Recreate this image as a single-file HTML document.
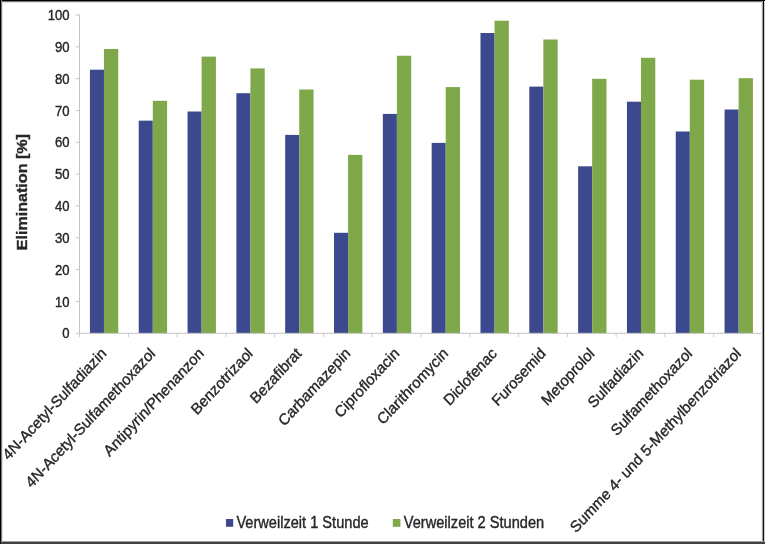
<!DOCTYPE html>
<html lang="de"><head><meta charset="utf-8"><title>Elimination</title>
<style>
html,body{margin:0;padding:0;background:#fff;}
body{width:765px;height:544px;overflow:hidden;position:relative;font-family:"Liberation Sans",sans-serif;}
svg{position:absolute;left:0;top:0;display:block;}
svg text{font-family:"Liberation Sans",sans-serif;fill:#262626;stroke:#262626;stroke-width:0.35px;}
</style></head><body>
<svg width="765" height="544" viewBox="0 0 765 544">
<rect x="0" y="0" width="765" height="544" fill="#fff"/>
<defs><filter id="soft" x="0" y="0" width="765" height="544" filterUnits="userSpaceOnUse"><feGaussianBlur stdDeviation="0.4"/></filter></defs>
<g filter="url(#soft)">
<rect x="89.92" y="69.70" width="14.05" height="263.60" fill="#3c4a8e"/><rect x="103.97" y="49.00" width="14.30" height="284.30" fill="#7ea84a"/>
<rect x="138.74" y="120.65" width="14.05" height="212.65" fill="#3c4a8e"/><rect x="152.79" y="100.80" width="14.30" height="232.50" fill="#7ea84a"/>
<rect x="187.56" y="111.50" width="14.05" height="221.80" fill="#3c4a8e"/><rect x="201.61" y="56.60" width="14.30" height="276.70" fill="#7ea84a"/>
<rect x="236.38" y="93.20" width="14.05" height="240.10" fill="#3c4a8e"/><rect x="250.43" y="68.40" width="14.30" height="264.90" fill="#7ea84a"/>
<rect x="285.20" y="134.90" width="14.05" height="198.40" fill="#3c4a8e"/><rect x="299.25" y="89.50" width="14.30" height="243.80" fill="#7ea84a"/>
<rect x="334.02" y="232.80" width="14.05" height="100.50" fill="#3c4a8e"/><rect x="348.07" y="154.90" width="14.30" height="178.40" fill="#7ea84a"/>
<rect x="382.84" y="113.90" width="14.05" height="219.40" fill="#3c4a8e"/><rect x="396.89" y="55.75" width="14.30" height="277.55" fill="#7ea84a"/>
<rect x="431.66" y="142.90" width="14.05" height="190.40" fill="#3c4a8e"/><rect x="445.71" y="87.10" width="14.30" height="246.20" fill="#7ea84a"/>
<rect x="480.48" y="33.00" width="14.05" height="300.30" fill="#3c4a8e"/><rect x="494.53" y="20.70" width="14.30" height="312.60" fill="#7ea84a"/>
<rect x="529.30" y="86.60" width="14.05" height="246.70" fill="#3c4a8e"/><rect x="543.35" y="39.50" width="14.30" height="293.80" fill="#7ea84a"/>
<rect x="578.12" y="166.30" width="14.05" height="167.00" fill="#3c4a8e"/><rect x="592.17" y="78.80" width="14.30" height="254.50" fill="#7ea84a"/>
<rect x="626.94" y="101.70" width="14.05" height="231.60" fill="#3c4a8e"/><rect x="640.99" y="57.80" width="14.30" height="275.50" fill="#7ea84a"/>
<rect x="675.76" y="131.50" width="14.05" height="201.80" fill="#3c4a8e"/><rect x="689.81" y="79.70" width="14.30" height="253.60" fill="#7ea84a"/>
<rect x="724.58" y="109.50" width="14.05" height="223.80" fill="#3c4a8e"/><rect x="738.63" y="78.20" width="14.30" height="255.10" fill="#7ea84a"/>
<g stroke="#c2c2c2" stroke-width="1" fill="none">
<line x1="79.55" y1="14.50" x2="79.55" y2="333.80"/>
<line x1="79.05" y1="333.30" x2="762.47" y2="333.30"/>
<line stroke="#c6c6c6" x1="75.75" y1="333.30" x2="79.55" y2="333.30"/><line stroke="#c6c6c6" x1="75.75" y1="301.47" x2="79.55" y2="301.47"/><line stroke="#c6c6c6" x1="75.75" y1="269.64" x2="79.55" y2="269.64"/><line stroke="#c6c6c6" x1="75.75" y1="237.81" x2="79.55" y2="237.81"/><line stroke="#c6c6c6" x1="75.75" y1="205.98" x2="79.55" y2="205.98"/><line stroke="#c6c6c6" x1="75.75" y1="174.15" x2="79.55" y2="174.15"/><line stroke="#c6c6c6" x1="75.75" y1="142.32" x2="79.55" y2="142.32"/><line stroke="#c6c6c6" x1="75.75" y1="110.49" x2="79.55" y2="110.49"/><line stroke="#c6c6c6" x1="75.75" y1="78.66" x2="79.55" y2="78.66"/><line stroke="#c6c6c6" x1="75.75" y1="46.83" x2="79.55" y2="46.83"/><line stroke="#c6c6c6" x1="75.75" y1="15.00" x2="79.55" y2="15.00"/>
<line stroke="#cacaca" x1="79.55" y1="333.30" x2="79.55" y2="337.10"/><line stroke="#cacaca" x1="128.33" y1="333.30" x2="128.33" y2="337.10"/><line stroke="#cacaca" x1="177.11" y1="333.30" x2="177.11" y2="337.10"/><line stroke="#cacaca" x1="225.89" y1="333.30" x2="225.89" y2="337.10"/><line stroke="#cacaca" x1="274.67" y1="333.30" x2="274.67" y2="337.10"/><line stroke="#cacaca" x1="323.45" y1="333.30" x2="323.45" y2="337.10"/><line stroke="#cacaca" x1="372.23" y1="333.30" x2="372.23" y2="337.10"/><line stroke="#cacaca" x1="421.01" y1="333.30" x2="421.01" y2="337.10"/><line stroke="#cacaca" x1="469.79" y1="333.30" x2="469.79" y2="337.10"/><line stroke="#cacaca" x1="518.57" y1="333.30" x2="518.57" y2="337.10"/><line stroke="#cacaca" x1="567.35" y1="333.30" x2="567.35" y2="337.10"/><line stroke="#cacaca" x1="616.13" y1="333.30" x2="616.13" y2="337.10"/><line stroke="#cacaca" x1="664.91" y1="333.30" x2="664.91" y2="337.10"/><line stroke="#cacaca" x1="713.69" y1="333.30" x2="713.69" y2="337.10"/><line stroke="#cacaca" x1="762.47" y1="333.30" x2="762.47" y2="337.10"/>
</g>
<g font-size="13.1" text-anchor="end">
<text transform="translate(69.6,338.40) scale(1,1.080)">0</text><text transform="translate(69.6,306.57) scale(1,1.080)">10</text><text transform="translate(69.6,274.74) scale(1,1.080)">20</text><text transform="translate(69.6,242.91) scale(1,1.080)">30</text><text transform="translate(69.6,211.08) scale(1,1.080)">40</text><text transform="translate(69.6,179.25) scale(1,1.080)">50</text><text transform="translate(69.6,147.42) scale(1,1.080)">60</text><text transform="translate(69.6,115.59) scale(1,1.080)">70</text><text transform="translate(69.6,83.76) scale(1,1.080)">80</text><text transform="translate(69.6,51.93) scale(1,1.080)">90</text><text transform="translate(69.6,20.10) scale(1,1.080)">100</text>
</g>
<text transform="translate(26.6,250.2) scale(1,1.102) rotate(-90)" font-size="14.6" font-weight="bold" fill="#1a1a1a">Elimination [%]</text>
<g font-size="14.6" text-anchor="end">
<text transform="translate(107.20,354.40) scale(1,1.080) rotate(-45)">4N-Acetyl-Sulfadiazin</text>
<text transform="translate(156.02,354.40) scale(1,1.080) rotate(-45)">4N-Acetyl-Sulfamethoxazol</text>
<text transform="translate(204.84,354.40) scale(1,1.080) rotate(-45)">Antipyrin/Phenanzon</text>
<text transform="translate(253.66,354.40) scale(1,1.080) rotate(-45)">Benzotrizaol</text>
<text transform="translate(302.48,354.40) scale(1,1.080) rotate(-45)">Bezafibrat</text>
<text transform="translate(351.30,354.40) scale(1,1.080) rotate(-45)">Carbamazepin</text>
<text transform="translate(400.12,354.40) scale(1,1.080) rotate(-45)">Ciprofloxacin</text>
<text transform="translate(448.94,354.40) scale(1,1.080) rotate(-45)">Clarithromycin</text>
<text transform="translate(497.76,354.40) scale(1,1.080) rotate(-45)">Diclofenac</text>
<text transform="translate(546.58,354.40) scale(1,1.080) rotate(-45)">Furosemid</text>
<text transform="translate(595.40,354.40) scale(1,1.080) rotate(-45)">Metoprolol</text>
<text transform="translate(644.22,354.40) scale(1,1.080) rotate(-45)">Sulfadiazin</text>
<text transform="translate(693.04,354.40) scale(1,1.080) rotate(-45)">Sulfamethoxazol</text>
<text transform="translate(741.86,354.40) scale(1,1.080) rotate(-45)">Summe 4- und 5-Methylbenzotriazol</text>
</g>
<rect x="226" y="519" width="7.2" height="7.8" fill="#3c4a8e"/><text transform="translate(236.4,527.6) scale(1,1.080)" font-size="14.6">Verweilzeit 1 Stunde</text>
<rect x="392.8" y="519" width="7.6" height="7.8" fill="#7ea84a"/><text transform="translate(403.8,527.6) scale(1,1.080)" font-size="14.6">Verweilzeit 2 Stunden</text>
</g>
<g shape-rendering="crispEdges"><rect x="0" y="0" width="765" height="1" fill="#000"/><rect x="0" y="1" width="765" height="1" fill="#787878"/><rect x="2" y="2" width="761" height="1" fill="#dedede"/><rect x="0" y="0" width="1" height="544" fill="#000"/><rect x="1" y="0" width="1" height="544" fill="#7a7a7a"/><rect x="2" y="2" width="1" height="539" fill="#e2e2e2"/><rect x="761" y="2" width="1" height="539" fill="#f0f0f0"/><rect x="762" y="1" width="1" height="541" fill="#a4a4a4"/><rect x="763" y="0" width="1" height="544" fill="#0a0a0a"/><rect x="764" y="1" width="1" height="543" fill="#d2d2d2"/><rect x="0" y="541" width="765" height="1" fill="#a0a0a0"/><rect x="0" y="542" width="765" height="2" fill="#414141"/><rect x="0" y="541" width="1" height="3" fill="#111"/></g>
</svg>
</body></html>
